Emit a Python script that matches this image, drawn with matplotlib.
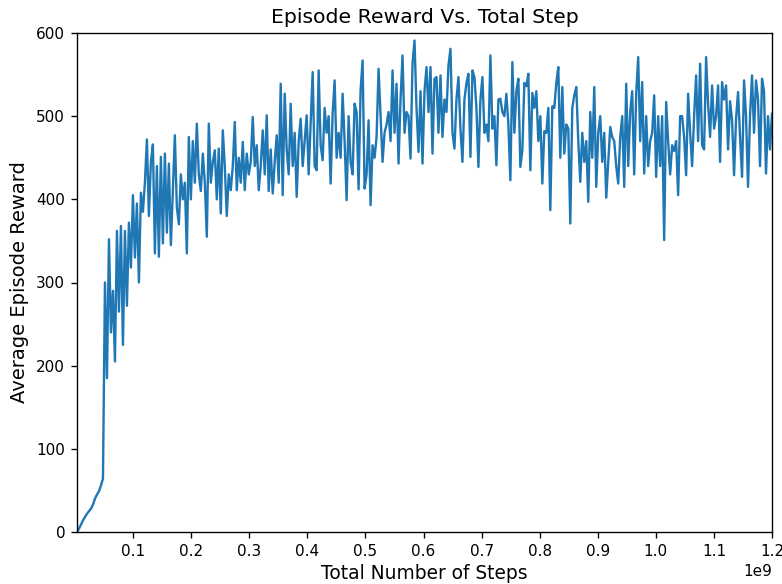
import numpy as np
import matplotlib
matplotlib.use("Agg")
import matplotlib.pyplot as plt
from matplotlib.ticker import MultipleLocator

# Average episode reward logged at evenly spaced training checkpoints
rewards = [
    0, 4, 9, 14, 18, 22, 25, 28, 33, 40, 45, 49, 56, 64,
    300, 185, 352, 240, 290, 205, 362, 265, 368, 225,
    362, 272, 372, 318, 405, 330, 395, 300, 408, 385,
    420, 472, 380, 445, 466, 335, 440, 331, 451, 347,
    455, 360, 443, 345, 410, 477, 390, 370, 430, 400,
    420, 335, 475, 400, 470, 420, 491, 430, 410, 455,
    420, 355, 491, 420, 445, 459, 400, 461, 383, 483,
    440, 380, 430, 411, 440, 493, 411, 450, 420, 469,
    411, 455, 430, 445, 499, 440, 465, 411, 440, 483,
    430, 501, 410, 460, 407, 445, 477, 420, 539, 405,
    527, 460, 430, 515, 440, 480, 403, 470, 497, 440,
    470, 501, 430, 490, 553, 440, 435, 555, 465, 447,
    510, 480, 500, 419, 503, 543, 450, 480, 450, 527,
    470, 399, 500, 445, 430, 515, 505, 412, 531, 567,
    413, 430, 495, 393, 465, 450, 475, 557, 500, 445,
    480, 490, 505, 470, 555, 480, 539, 443, 520, 573,
    480, 505, 500, 449, 563, 591, 510, 457, 530, 443,
    530, 559, 505, 559, 455, 545, 547, 480, 549, 475,
    520, 505, 561, 581, 480, 461, 520, 547, 485, 445,
    520, 540, 551, 451, 555, 547, 510, 439, 520, 547,
    480, 490, 470, 573, 485, 500, 441, 520, 521, 505,
    500, 527, 490, 423, 565, 480, 530, 545, 439, 459,
    540, 536, 551, 435, 528, 510, 530, 470, 500, 419,
    482, 480, 510, 387, 512, 510, 540, 559, 450, 535,
    455, 490, 485, 371, 510, 525, 535, 470, 421, 480,
    445, 470, 397, 505, 450, 535, 415, 480, 500, 445,
    480, 402, 445, 487, 475, 470, 440, 419, 475, 500,
    415, 539, 440, 505, 530, 430, 527, 571, 470, 541,
    431, 500, 440, 470, 480, 525, 427, 500, 440, 500,
    351, 517, 470, 430, 465, 458, 470, 405, 500, 500,
    475, 429, 527, 480, 440, 500, 549, 470, 563, 465,
    460, 571, 515, 475, 537, 485, 500, 537, 445, 541,
    520, 537, 460, 518, 495, 429, 497, 529, 475, 427,
    543, 500, 415, 500, 549, 480, 543, 520, 440, 545,
    530, 431, 500, 460, 503,
]

total_steps = 1.2e9
steps = np.arange(1, len(rewards) + 1) * (total_steps / len(rewards))

fig = plt.figure(figsize=(782 / 122, 584 / 122), dpi=122)
ax = fig.add_subplot(111)
fig.subplots_adjust(left=77 / 782, right=772 / 782,
                    top=1 - 33 / 584, bottom=1 - 532 / 584)

ax.plot(steps, rewards, color="#1f77b4", linewidth=1.4)

ax.set_xlim(steps[0], steps[-1])
ax.set_ylim(0, 600)
ax.xaxis.set_major_locator(MultipleLocator(1e8))
ax.yaxis.set_major_locator(MultipleLocator(100))
ax.tick_params(labelsize=9)
ax.xaxis.get_offset_text().set_fontsize(9)
ax.set_title("Episode Reward Vs. Total Step", fontsize=12)
ax.set_xlabel("Total Number of Steps", fontsize=11, labelpad=3)
ax.set_ylabel("Average Episode Reward", fontsize=11.5)

fig.savefig("out.png", dpi=122)
